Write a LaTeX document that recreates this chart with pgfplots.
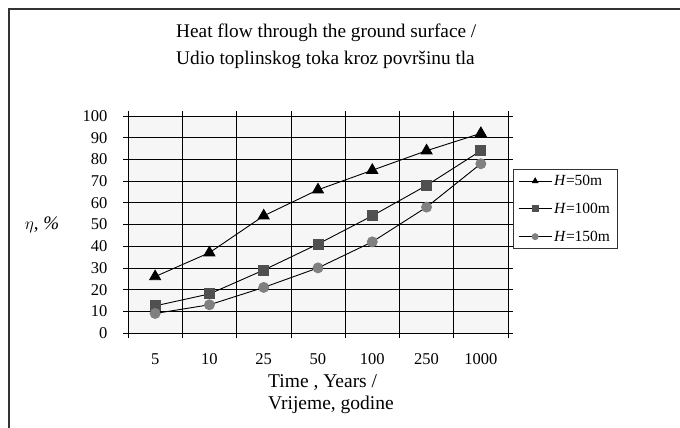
\documentclass[border=0pt]{standalone}
\usepackage{fontspec}
\setmainfont{Liberation Serif}
\usepackage{pgfplots}
\pgfplotsset{compat=1.18}

\definecolor{sqgray}{HTML}{505050}
\definecolor{cigray}{HTML}{808080}
\definecolor{bggray}{HTML}{F6F6F6}

\begin{document}
\begin{tikzpicture}[x=1pt,y=1pt]
\path[use as bounding box] (-128,-95) rectangle (552,333);
\draw[line width=1.6pt,black!80] (-119,-96) -- (-119,324) -- (553,324);

\begin{axis}[
    at={(0pt,0pt)}, anchor=south west,
    scale only axis, width=380pt, height=217pt,
    xmin=-0.5, xmax=6.5, ymin=0, ymax=100,
    xtick={0,...,6},
    xticklabels={5,10,25,50,100,250,1000},
    minor xtick={-0.5,0.5,...,6.5},
    ytick={0,10,...,100},
    major x tick style={draw=none},
    ymajorgrids, xminorgrids,
    grid style={black, line width=0.6pt},
    tick align=outside,
    major tick length=5pt, minor tick length=5pt,
    tick style={black, line width=0.6pt},
    axis line style={black, line width=0.6pt},
    axis background/.style={fill=bggray},
    tick label style={font=\fontsize{16.5}{18}\selectfont},
    /pgf/number format/assume math mode=true,
    xticklabel style={yshift=-12pt},
    yticklabel style={xshift=-12pt},
    legend style={at={(1.0132,0.756)}, anchor=north west, draw=black!80,
        font=\fontsize{15.5}{17}\selectfont, row sep=12pt,
        inner xsep=5pt, inner ysep=4pt},
    legend cell align=left,
    legend image code/.code={\draw[mark repeat=2,mark phase=2,#1,mark size=3pt]
        plot coordinates {(0pt,0pt) (16.5pt,0pt) (33pt,0pt)};},
]
\addplot[black, line width=0.9pt, mark=triangle*, mark size=6.3pt,
    mark options={fill=black, draw=black}]
    coordinates {(0,26) (1,37) (2,54) (3,66) (4,75) (5,84) (6,92)};
\addplot[black, line width=0.9pt, mark=square*, mark size=5pt,
    mark options={fill=sqgray, draw=sqgray}]
    coordinates {(0,12.5) (1,18) (2,29) (3,41) (4,54) (5,68) (6,84)};
\addplot[black, line width=0.9pt, mark=*, mark size=5pt,
    mark options={fill=cigray, draw=cigray}]
    coordinates {(0,9) (1,13) (2,21) (3,30) (4,42) (5,58) (6,78)};
\legend{\textit{H}=50m, \textit{H}=100m, \textit{H}=150m}
\end{axis}

\node[anchor=west, align=left, inner sep=0pt, font=\fontsize{19.3}{27}\selectfont]
    at (48,286.5)
    {Heat flow through the ground surface /\\Udio toplinskog toka kroz površinu tla};
\node[anchor=west, align=left, inner sep=0pt, font=\fontsize{19.5}{22}\selectfont]
    at (140,-61) {Time , Years /\\Vrijeme, godine};
\node[font=\fontsize{19}{21}\selectfont] at (-86,108) {$\eta$, \textit{\%}};
\end{tikzpicture}
\end{document}
